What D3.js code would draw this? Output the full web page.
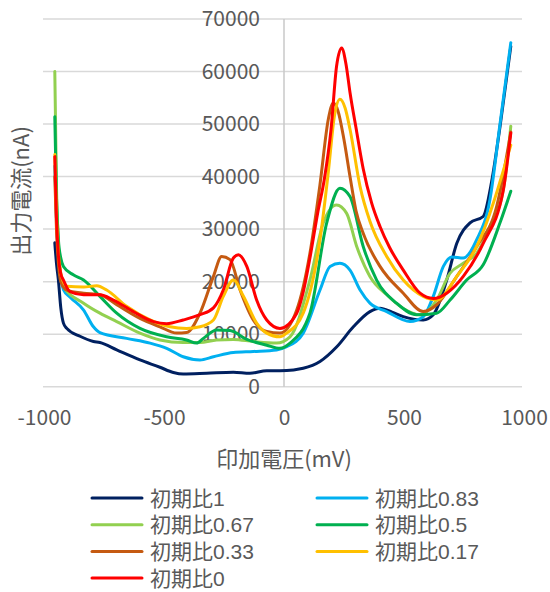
<!DOCTYPE html>
<html>
<head>
<meta charset="utf-8">
<script src="https://cdn.jsdelivr.net/npm/d3@7"></script>
<style>
  body { margin: 0; background: #fff; }
  text { font-family: "Noto Sans CJK JP", "Noto Sans", sans-serif; fill: #595959; }
</style>
</head>
<body>
<div id="chart"></div>
<script>
// series values, [mV, nA]
var ratio1 = [[-955, 27400], [-948, 23500], [-940, 20300], [-930, 15000], [-919, 12100], [-905, 11100], [-850, 9600], [-794, 8600], [-767, 8400], [-697, 7000], [-600, 5100], [-517, 3700], [-461, 2700], [-420, 2400], [-322, 2550], [-211, 2750], [-142, 2550], [-72, 3050], [-17, 3050], [40, 3200], [80, 3500], [150, 4800], [220, 7600], [289, 11400], [358, 14300], [400, 14950], [450, 14200], [497, 13350], [580, 12700], [622, 13700], [678, 20300], [720, 27300], [775, 31200], [830, 32400], [865, 39000], [900, 49500], [945, 64800]];
var ratio083 = [[-955, 42000], [-948, 32000], [-940, 25000], [-930, 20500], [-919, 18500], [-890, 17000], [-835, 14600], [-794, 11400], [-767, 10300], [-656, 9200], [-558, 8300], [-489, 7300], [-420, 5700], [-350, 5100], [-294, 5700], [-211, 6500], [-128, 6700], [-31, 7000], [11, 7600], [80, 10200], [150, 18400], [192, 22900], [233, 23500], [275, 22200], [317, 18400], [358, 15900], [428, 14300], [525, 12400], [580, 13300], [622, 17200], [664, 22900], [699, 24700], [747, 24500], [803, 28000], [858, 35600], [900, 50000], [945, 65500]];
var ratio067 = [[-955, 60000], [-948, 38000], [-940, 27000], [-930, 21500], [-919, 19100], [-835, 15900], [-767, 14000], [-697, 12400], [-600, 10200], [-517, 8900], [-420, 8400], [-350, 8400], [-281, 8900], [-211, 9000], [-128, 8600], [-31, 8300], [25, 9500], [108, 20300], [164, 31200], [219, 34600], [261, 33000], [303, 26700], [358, 21000], [428, 17500], [497, 14900], [567, 13700], [636, 16500], [692, 21600], [747, 23500], [803, 25400], [858, 30500], [914, 37500], [945, 49600]];
var ratio05 = [[-955, 51400], [-948, 36000], [-940, 28000], [-930, 24500], [-919, 22900], [-878, 21300], [-835, 20300], [-767, 17200], [-697, 14000], [-600, 11100], [-489, 9500], [-406, 8900], [-364, 8300], [-336, 9200], [-281, 10800], [-225, 10700], [-155, 9000], [-72, 7900], [-17, 7300], [25, 8300], [108, 14000], [178, 31200], [233, 37800], [275, 36200], [330, 26700], [386, 20300], [469, 15900], [553, 13700], [636, 14000], [692, 16500], [761, 20300], [830, 23200], [900, 31200], [945, 37200]];
var ratio033 = [[-955, 40000], [-948, 30000], [-940, 23500], [-930, 20000], [-905, 18400], [-835, 17800], [-767, 17500], [-697, 15600], [-600, 13000], [-517, 11400], [-447, 10200], [-406, 10300], [-350, 14000], [-294, 21000], [-260, 24800], [-225, 24200], [-183, 18400], [-128, 12700], [-72, 10500], [-17, 10200], [53, 14600], [108, 25400], [150, 38500], [185, 51000], [205, 54000], [225, 52500], [250, 47000], [275, 40000], [300, 33500], [330, 29200], [400, 22900], [497, 17800], [580, 14300], [636, 15600], [720, 21000], [803, 26700], [886, 34300], [945, 48500]];
var ratio017 = [[-955, 44200], [-948, 33000], [-940, 25500], [-930, 21500], [-905, 19100], [-835, 19000], [-780, 19200], [-739, 18400], [-656, 15300], [-558, 12700], [-475, 11400], [-406, 11100], [-350, 11400], [-294, 12700], [-253, 17200], [-211, 20300], [-169, 17200], [-114, 12100], [-72, 10200], [-17, 9500], [11, 10200], [80, 14000], [150, 28000], [185, 41000], [210, 51500], [233, 54700], [255, 53000], [275, 49000], [317, 38100], [358, 31500], [428, 24800], [497, 20300], [580, 17200], [636, 16500], [720, 21000], [803, 26700], [945, 46000]];
var ratio0 = [[-955, 43800], [-948, 32000], [-940, 25000], [-930, 21500], [-919, 20300], [-892, 18100], [-835, 17500], [-767, 17500], [-711, 16500], [-628, 14300], [-544, 12400], [-489, 12000], [-420, 12700], [-350, 13700], [-294, 15000], [-253, 18400], [-211, 24500], [-190, 25100], [-155, 22900], [-114, 16500], [-72, 12700], [-17, 11100], [53, 14000], [80, 18000], [110, 25000], [140, 33000], [168, 39500], [196, 49000], [219, 61000], [240, 64500], [258, 61500], [275, 56000], [303, 48500], [330, 41500], [365, 35000], [400, 30500], [440, 26500], [497, 22200], [567, 17800], [622, 16800], [678, 17800], [747, 21000], [830, 27300], [914, 37500], [945, 48300]];

var seriesNames = ["初期比1", "初期比0.83", "初期比0.67", "初期比0.5", "初期比0.33", "初期比0.17", "初期比0"];
var seriesData = [ratio1, ratio083, ratio067, ratio05, ratio033, ratio017, ratio0];
var colors = ["#002060", "#00B0F0", "#92D050", "#00B050", "#C55A11", "#FFC000", "#FF0000"];
var xTicks = [-1000, -500, 0, 500, 1000];
var yTicks = [0, 10000, 20000, 30000, 40000, 50000, 60000, 70000];

var svgWidth = 550, svgHeight = 592;
var svg = d3.select("#chart").append("svg")
  .attr("width", svgWidth)
  .attr("height", svgHeight);

var x = d3.scaleLinear().domain([-1000, 1000]).range([44, 524]);
var y = d3.scaleLinear().domain([0, 70000]).range([386.7, 19]);

// gridlines
svg.append("g")
  .selectAll("line")
  .data(yTicks)
  .enter().append("line")
  .attr("x1", 43).attr("x2", 522)
  .attr("y1", d => y(d)).attr("y2", d => y(d))
  .attr("stroke", "#d9d9d9")
  .attr("stroke-width", 1.5);

// y axis line at x = 0
svg.append("line")
  .attr("x1", x(0)).attr("x2", x(0))
  .attr("y1", y(70000)).attr("y2", y(0))
  .attr("stroke", "#c8c8c8")
  .attr("stroke-width", 1.5);

// tick labels
var leftAxis = d3.axisLeft(y).tickValues(yTicks).tickSize(0).tickPadding(24).tickFormat(d => String(d));
var ya = svg.append("g").attr("transform", `translate(${x(0)},0)`).call(leftAxis);
ya.select(".domain").remove();
ya.selectAll("text").attr("font-size", 21).style("fill", "#595959")
  .style("font-family", '"Noto Sans CJK JP", sans-serif');

var bottomAxis = d3.axisBottom(x).tickValues(xTicks).tickSize(0).tickPadding(23).tickFormat(d => String(d));
var xa = svg.append("g").attr("transform", `translate(0,${y(0)})`).call(bottomAxis);
xa.select(".domain").remove();
xa.selectAll("text").attr("font-size", 21).style("fill", "#595959")
  .style("font-family", '"Noto Sans CJK JP", sans-serif');

// series lines
var line = d3.line()
  .x(d => x(d[0]))
  .y(d => y(d[1]))
  .curve(d3.curveMonotoneX);

svg.append("g")
  .selectAll("path")
  .data(seriesData)
  .enter().append("path")
  .attr("d", line)
  .attr("fill", "none")
  .attr("stroke", (d, i) => colors[i])
  .attr("stroke-width", 3)
  .attr("stroke-linejoin", "round")
  .attr("stroke-linecap", "round");

// axis titles
svg.append("text")
  .attr("x", x(0))
  .attr("y", 467)
  .attr("text-anchor", "middle")
  .attr("font-size", 22)
  .text("印加電圧(mV)");

svg.append("text")
  .attr("transform", "translate(29,191) rotate(-90)")
  .attr("text-anchor", "middle")
  .attr("font-size", 22)
  .text("出力電流(nA)");

// legend
var legend = svg.append("g")
  .selectAll("g")
  .data(seriesNames)
  .enter().append("g")
  .attr("transform", (d, i) => `translate(${i % 2 === 0 ? 92 : 317},${498 + Math.floor(i / 2) * 26.7})`);

legend.append("line")
  .attr("x1", 0).attr("x2", 50)
  .attr("stroke", (d, i) => colors[i])
  .attr("stroke-width", 3)
  .attr("stroke-linecap", "round");

legend.append("text")
  .attr("x", 58)
  .attr("dy", "0.36em")
  .attr("font-size", 21)
  .style("font-family", '"Liberation Sans", "Noto Sans CJK JP", sans-serif')
  .text(d => d);
</script>
</body>
</html>
